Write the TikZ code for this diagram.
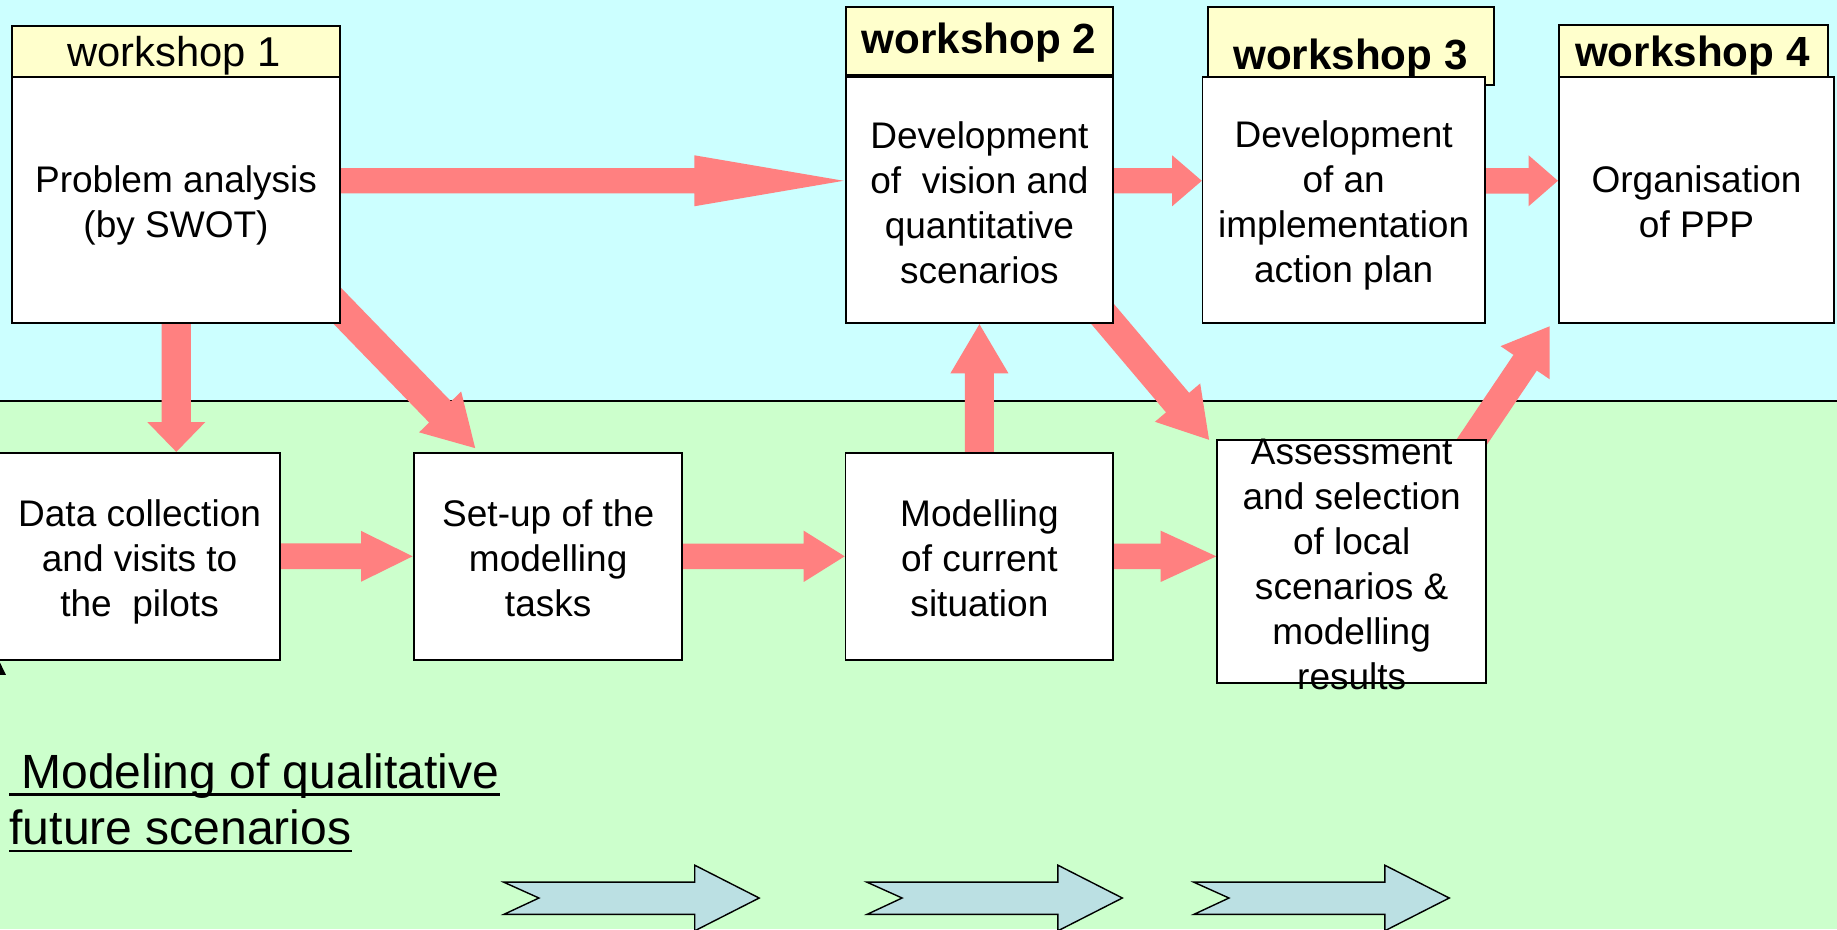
\documentclass[tikz,border=0pt]{standalone}
\usepackage{fontspec}
\setmainfont{Liberation Sans}
\usetikzlibrary{calc}
\definecolor{topbg}{HTML}{CCFFFF}
\definecolor{botbg}{HTML}{CCFFCC}
\definecolor{arrowpink}{HTML}{FF8080}
\definecolor{hdryellow}{HTML}{FFFFCC}
\definecolor{chevfill}{HTML}{BBE0E3}
% block arrow: #1 start, #2 tip, #3 half shaft, #4 half head, #5 head length
\newcommand{\pinkarrow}[5]{%
  \coordinate (ba-a) at #1;
  \coordinate (ba-b) at #2;
  \coordinate (ba-c) at ($(ba-b)!#5!(ba-a)$);
  \fill[arrowpink] ($(ba-a)!#3!90:(ba-b)$) -- ($(ba-c)!#3!90:(ba-b)$) -- ($(ba-c)!#4!90:(ba-b)$) -- (ba-b)
    -- ($(ba-c)!#4!-90:(ba-b)$) -- ($(ba-c)!#3!-90:(ba-b)$) -- ($(ba-a)!#3!-90:(ba-b)$) -- cycle;
}
\begin{document}
\begin{tikzpicture}[x=1pt,y=-1pt,
  box/.style={draw=black, line width=1.5pt, fill=white, inner sep=0pt},
  boxtext/.style={inner sep=0pt, align=center, font=\fontsize{31.6}{38.4}\selectfont},
  hdr/.style={draw=black, line width=1.5pt, fill=hdryellow, inner sep=0pt},
  hdrtext/.style={anchor=base, inner sep=0pt, font=\fontsize{35.6}{40}\selectfont},
  hdrbold/.style={anchor=base, inner sep=0pt, font=\fontsize{36}{40}\selectfont\bfseries},
  chevron/.style={draw=black, line width=1.2pt, fill=chevfill, line join=miter},
  uline/.style={line width=2.2pt},
  bigtext/.style={anchor=base west, inner sep=0pt, font=\fontsize{41}{48}\selectfont}
]
\useasboundingbox (0,0) rectangle (1568,793);
% backgrounds
\fill[topbg] (0,0) rectangle (1568,342);
\fill[botbg] (0,342) rectangle (1568,793);
\draw[line width=1.5pt] (0,342) -- (1568,342);

% headers
\node[hdr, minimum width=280pt, minimum height=44pt] (w1h) at (150.25,44) {};
\node[hdrtext] (w1t) at (148.7,56.9) {workshop 1};
\node[hdr, minimum width=228pt, minimum height=58pt] (w2h) at (836,35) {};
\node[hdrbold] (w2t) at (835.5,45.5) {workshop 2};
\node[hdr, minimum width=244pt, minimum height=66.5pt] (w3h) at (1153,39.25) {};
\node[hdrbold] (w3t) at (1152.7,59.7) {workshop 3};
\node[hdr, minimum width=229pt, minimum height=44.7pt] (w4h) at (1445.5,43.6) {};
\node[hdrbold] (w4t) at (1444.5,56.9) {workshop 4};

% box positions (boxes drawn after the connectors)
\path (150.25,171) node[minimum width=279.5pt, minimum height=210pt, inner sep=0pt] (w1) {}
      (836,171) node[minimum width=228pt, minimum height=210pt, inner sep=0pt] (w2) {}
      (1146.9,171) node[minimum width=240.8pt, minimum height=210pt, inner sep=0pt] (w3) {}
      (1448.1,171) node[minimum width=234.3pt, minimum height=210pt, inner sep=0pt] (w4) {}
      (118.65,474.85) node[minimum width=241.3pt, minimum height=176.9pt, inner sep=0pt] (data) {}
      (467.9,474.85) node[minimum width=228.6pt, minimum height=176.9pt, inner sep=0pt] (setup) {}
      (836,474.85) node[minimum width=228.6pt, minimum height=176.9pt, inner sep=0pt] (model) {}
      (1153.75,479.4) node[minimum width=229.5pt, minimum height=207.6pt, inner sep=0pt] (assess) {};

% pink connectors
\pinkarrow{($(w1.east)+(-5,-16.7)$)}{($(w2.west)+(-1.7,-16.7)$)}{10.7pt}{21.75pt}{127.4pt}
\pinkarrow{($(w2.east)+(-5,-16.7)$)}{($(w3.west)+(-0.5,-16.7)$)}{10.7pt}{21.75pt}{25.3pt}
\pinkarrow{($(w3.east)+(-5,-16.7)$)}{($(w4.west)+(-1,-16.7)$)}{10.9pt}{21.75pt}{25pt}
\pinkarrow{($(w1.south)+(0.25,-5)$)}{($(w1.south)+(0.25,109.5)$)}{12.5pt}{24.8pt}{25.5pt}
\pinkarrow{($(w1.south east)+(-16.4,-29.7)$)}{($(setup.north west)+(52.2,-3.7)$)}{13pt}{25pt}{43pt}
\pinkarrow{($(data.east)+(-5,0)$)}{($(setup.west)+(-1.2,0)$)}{11pt}{21.7pt}{44pt}
\pinkarrow{($(setup.east)+(-5,0)$)}{($(model.west)+(-0.5,0)$)}{10.85pt}{21.9pt}{35pt}
\pinkarrow{($(model.east)+(-5,0)$)}{($(model.east -| assess.west)+(-0.6,0)$)}{10.85pt}{21.9pt}{47.5pt}
\pinkarrow{($(model.north)+(0,5)$)}{($(w2.south)+(0,0.5)$)}{12.35pt}{24.8pt}{42pt}
\pinkarrow{($(w2.south east)+(-27.6,-30.1)$)}{($(assess.north west)+(-6.8,0)$)}{12.9pt}{25.3pt}{41.6pt}
\pinkarrow{($(assess.north east)+(-29.5,27.2)$)}{($(w4.south west)+(-8,2.3)$)}{12pt}{25.3pt}{37.5pt}

% boxes
\node[box, minimum width=279.5pt, minimum height=210pt] (w1b) at (w1) {};
\node[boxtext] (w1x) at ([yshift=-4pt]w1b.center) {Problem analysis\\(by SWOT)};
\node[box, minimum width=228pt, minimum height=210pt] (w2b) at (w2) {};
\node[boxtext] (w2x) at ([yshift=-2pt]w2b.center) {Development\\of~~vision and\\quantitative\\scenarios};
\node[box, minimum width=240.8pt, minimum height=210pt] (w3b) at (w3) {};
\node[boxtext] (w3x) at ([yshift=-4pt]w3b.center) {Development\\of an\\implementation\\action plan};
\node[box, minimum width=234.3pt, minimum height=210pt] (w4b) at (w4) {};
\node[boxtext] (w4x) at ([yshift=-1pt]w4b.center) {Organisation\\of PPP};
\node[box, minimum width=241.3pt, minimum height=176.9pt] (datab) at (data) {};
\node[boxtext] (datax) at ([xshift=0.5pt,yshift=-5pt]datab.center) {Data collection\\and visits to\\the~~pilots};
\node[box, minimum width=228.6pt, minimum height=176.9pt] (setupb) at (setup) {};
\node[boxtext] (setupx) at ([yshift=-1.5pt]setupb.center) {Set-up of the\\modelling\\tasks};
\node[box, minimum width=228.6pt, minimum height=176.9pt] (modelb) at (model) {};
\node[boxtext] (modelx) at ([yshift=-1.5pt]modelb.center) {Modelling\\of current\\situation};
\node[box, minimum width=229.5pt, minimum height=207.6pt] (assessb) at (assess) {};
\node[boxtext] (assessx) at ([yshift=-2pt]assessb.center) {Assessment\\and selection\\of local\\scenarios \&\\modelling\\results};

% small black tip at left edge
\fill[black] (0,565.6) -- (5.1,576.1) -- (0,576.1) -- cycle;

% qualitative scenarios text
\node[bigtext] (mq1) at (8,672.6) {\hspace*{10pt}Modeling of qualitative};
\draw[uline] ($(mq1.base west)+(0,5.5)$) -- ($(mq1.base east)+(0,5.5)$);
\node[bigtext] (mq2) at (8,721) {future scenarios};
\draw[uline] ($(mq2.base west)+(0,5.5)$) -- ($(mq2.base east)+(0,5.5)$);

% chevron arrows
\draw[chevron] (430,753) -- (593,753) -- (593,738.5) -- (648,766.5) -- (593,794.5) -- (593,780.5) -- (430,780.5) -- (460,766.5) -- cycle;
\draw[chevron] (740,753) -- (903,753) -- (903,738.5) -- (958,766.5) -- (903,794.5) -- (903,780.5) -- (740,780.5) -- (770,766.5) -- cycle;
\draw[chevron] (1019,753) -- (1182,753) -- (1182,738.5) -- (1237,766.5) -- (1182,794.5) -- (1182,780.5) -- (1019,780.5) -- (1049,766.5) -- cycle;
\end{tikzpicture}
\end{document}
